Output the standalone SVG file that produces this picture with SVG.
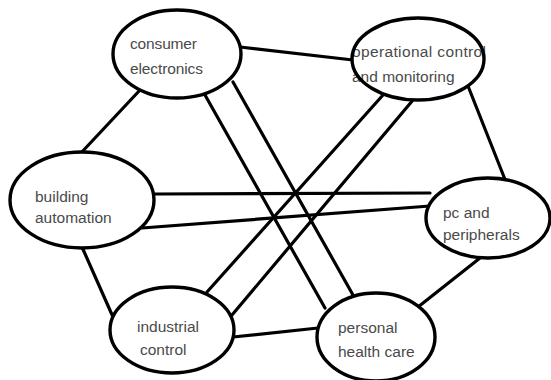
<svg xmlns="http://www.w3.org/2000/svg" xmlns:xlink="http://www.w3.org/1999/xlink" width="551" height="380" viewBox="0 0 551 380">
<style>
.bg{fill:#ffffff}
.edge{stroke:#000;stroke-width:3.2;stroke-linecap:round;fill:none}
.shape{fill:#ffffff;stroke:none}
.outline{fill:none;stroke:#000;stroke-width:3.4}
.lbl{font-family:"Liberation Sans",Arial,sans-serif;font-size:15.5px;fill:#4a4a4a}
</style>
<rect class="bg" x="0" y="0" width="551" height="380"/>
<g id="connectors">
<line class="edge" x1="240" y1="47" x2="353" y2="60"/>
<line class="edge" x1="140" y1="90" x2="80" y2="154"/>
<line class="edge" x1="205" y1="95" x2="325" y2="308"/>
<line class="edge" x1="233" y1="82" x2="353" y2="295"/>
<line class="edge" x1="383" y1="95" x2="207" y2="292"/>
<line class="edge" x1="413" y1="100" x2="232" y2="315"/>
<line class="edge" x1="468" y1="86" x2="506" y2="182"/>
<line class="edge" x1="155" y1="194" x2="430" y2="193"/>
<line class="edge" x1="142" y1="228" x2="430" y2="206"/>
<line class="edge" x1="82" y1="247" x2="113" y2="317"/>
<line class="edge" x1="233" y1="337" x2="318" y2="328"/>
<line class="edge" x1="418" y1="307" x2="480" y2="258"/>
</g>
<g id="consumer-electronics">
<ellipse class="shape" cx="177" cy="54" rx="64" ry="44"/>
<text class="lbl" x="130" y="49" textLength="67">consumer</text>
<text class="lbl" x="130" y="74" textLength="73">electronics</text>
<ellipse class="outline" cx="177" cy="54" rx="64" ry="44"/>
</g>
<g id="operational-control">
<ellipse class="shape" cx="418" cy="59" rx="66" ry="41"/>
<text class="lbl" x="352" y="57" textLength="134">operational control</text>
<text class="lbl" x="352" y="82">and monitoring</text>
<ellipse class="outline" cx="418" cy="59" rx="66" ry="41"/>
</g>
<g id="building-automation">
<ellipse class="shape" cx="82" cy="200" rx="72" ry="48"/>
<text class="lbl" x="35" y="202">building</text>
<text class="lbl" x="35" y="223">automation</text>
<ellipse class="outline" cx="82" cy="200" rx="72" ry="48"/>
</g>
<g id="pc-and-peripherals">
<ellipse class="shape" cx="488" cy="218" rx="62" ry="40"/>
<text class="lbl" x="443" y="218">pc and</text>
<text class="lbl" x="443" y="240">peripherals</text>
<ellipse class="outline" cx="488" cy="218" rx="62" ry="40"/>
</g>
<g id="industrial-control">
<ellipse class="shape" cx="172" cy="330" rx="62" ry="43"/>
<text class="lbl" x="137" y="332">industrial</text>
<text class="lbl" x="140" y="355">control</text>
<ellipse class="outline" cx="172" cy="330" rx="62" ry="43"/>
</g>
<g id="personal-health-care">
<ellipse class="shape" cx="376" cy="337" rx="59" ry="44"/>
<text class="lbl" x="338" y="333">personal</text>
<text class="lbl" x="338" y="357">health care</text>
<ellipse class="outline" cx="376" cy="337" rx="59" ry="44"/>
</g>
</svg>
